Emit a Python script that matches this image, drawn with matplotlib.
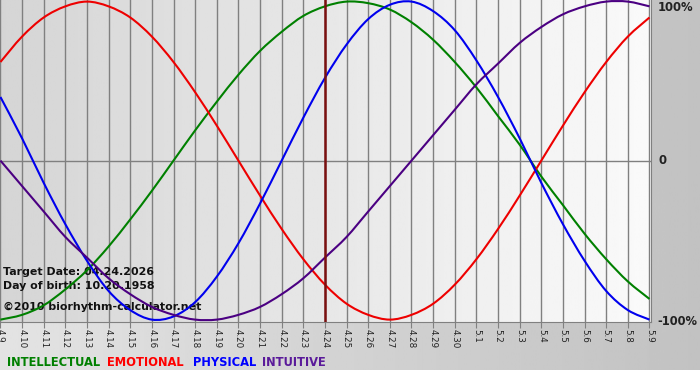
import matplotlib
import matplotlib.pyplot as plt
from matplotlib.path import Path
from matplotlib.patches import PathPatch
import numpy as np

plt.switch_backend('agg')

# days shown, 4.9 .. 5.9
days = ['4.9', '4.10', '4.11', '4.12', '4.13', '4.14', '4.15', '4.16', '4.17', '4.18',
        '4.19', '4.20', '4.21', '4.22', '4.23', '4.24', '4.25', '4.26', '4.27', '4.28',
        '4.29', '4.30', '5.1', '5.2', '5.3', '5.4', '5.5', '5.6', '5.7', '5.8', '5.9']

# values per day (-1 .. 1)
physical = [0.40, 0.14, -0.14, -0.40, -0.63, -0.82, -0.94, -1.00, -0.98, -0.89,
            -0.73, -0.52, -0.27, 0.00, 0.27, 0.52, 0.73, 0.89, 0.98, 1.00,
            0.94, 0.82, 0.63, 0.40, 0.14, -0.14, -0.40, -0.63, -0.82, -0.94, -1.00]
emotional = [0.62, 0.78, 0.90, 0.97, 1.00, 0.97, 0.90, 0.78, 0.62, 0.43,
             0.22, 0.00, -0.22, -0.43, -0.62, -0.78, -0.90, -0.97, -1.00, -0.97,
             -0.90, -0.78, -0.62, -0.43, -0.22, 0.00, 0.22, 0.43, 0.62, 0.78, 0.90]
intellectual = [-1.00, -0.97, -0.91, -0.81, -0.69, -0.54, -0.37, -0.19, 0.00, 0.19,
                0.37, 0.54, 0.69, 0.81, 0.91, 0.97, 1.00, 0.99, 0.95, 0.87,
                0.76, 0.62, 0.46, 0.28, 0.10, -0.10, -0.28, -0.46, -0.62, -0.76, -0.87]
intuitive = [0.00, -0.16, -0.32, -0.48, -0.61, -0.74, -0.84, -0.92, -0.97, -1.00,
             -1.00, -0.97, -0.92, -0.84, -0.74, -0.61, -0.48, -0.32, -0.16, 0.00,
             0.16, 0.32, 0.48, 0.61, 0.74, 0.84, 0.92, 0.97, 1.00, 1.00, 0.97]

target_day = '4.24'
target_txt = 'Target Date: 04.24.2026'
birth_txt = 'Day of birth: 10.20.1958'
copy_txt = '\u00a92010 biorhythm-calculator.net'

series = [('INTELLECTUAL', intellectual, '#008000'),
          ('EMOTIONAL', emotional, '#ee0000'),
          ('PHYSICAL', physical, '#0000ee'),
          ('INTUITIVE', intuitive, '#4b0082')]
legend_col = {'INTELLECTUAL': '#008000', 'EMOTIONAL': '#ff0000',
              'PHYSICAL': '#0000ff', 'INTUITIVE': '#5a1a9a'}


def smooth_line(ax, xs, ys, col):
    # draw the daily points as one smooth bezier line (catmull-rom style)
    pts = np.column_stack([xs, ys]).astype(float)
    n = len(pts)
    verts = [pts[0]]
    codes = [Path.MOVETO]
    for i in range(n - 1):
        p0 = pts[i - 1] if i > 0 else pts[i]
        p3 = pts[i + 2] if i + 2 < n else pts[i + 1]
        c1 = pts[i] + (pts[i + 1] - p0) / 6.0
        c2 = pts[i + 1] - (p3 - pts[i]) / 6.0
        verts += [c1, c2, pts[i + 1]]
        codes += [Path.CURVE4] * 3
    ax.add_patch(PathPatch(Path(verts, codes), facecolor='none', edgecolor=col,
                           lw=1.5, zorder=3))


plt.rcParams['font.family'] = 'DejaVu Sans'
fig = plt.figure(figsize=(7, 3.8), dpi=100)
fig.patch.set_facecolor('white')

# outer gray gradient panel (light left -> darker right), white strip at bottom
bg = fig.add_axes([0, 10 / 380, 1, 370 / 380])
bg.imshow(np.linspace(0.89, 0.76, 256).reshape(1, -1), cmap='gray', vmin=0, vmax=1,
          aspect='auto', extent=[0, 1, 0, 1])
bg.set_axis_off()

ax = fig.add_axes([0, 58 / 380, 651 / 700, 322 / 380])
x = np.arange(len(days))
ax.set_xlim(-0.02, 30.07)
ax.set_ylim(-1.015, 1.01)

# plot area gradient (darker left -> light right)
ax.imshow(np.linspace(0.835, 0.98, 256).reshape(1, -1), cmap='gray', vmin=0, vmax=1,
          aspect='auto', extent=[-0.02, 30.07, -1.015, 1.01], zorder=0)

for xi in x:
    ax.axvline(xi, color='#808080', lw=1, zorder=1)
ax.axhline(0, color='#808080', lw=1, zorder=1)

ax.text(0.1, -0.700, target_txt, fontsize=7.9, fontweight='bold', color='#111111', va='center', zorder=2)
ax.text(0.1, -0.789, birth_txt, fontsize=7.9, fontweight='bold', color='#111111', va='center', zorder=2)
ax.text(0.1, -0.921, copy_txt, fontsize=7.9, fontweight='bold', color='#111111', va='center', zorder=2)

for name, vals, col in series:
    smooth_line(ax, x, vals, col)

ax.axvline(days.index(target_day), color='#7a1010', lw=1.8, zorder=4)

ax.set_xticks(x)
ax.set_xticklabels(days, rotation=270, fontsize=6.3, color='#222222')
ax.tick_params(axis='x', length=4, color='#808080', pad=1)
ax.set_yticks([])
for s in ['top', 'left']:
    ax.spines[s].set_visible(False)
ax.spines['bottom'].set_color('#808080')
ax.spines['right'].set_color('#808080')

ax.text(30.4, 0.965, '100%', fontsize=8.4, fontweight='bold', color='#222222', va='center', clip_on=False)
ax.text(30.4, 0.0, '0', fontsize=8.4, fontweight='bold', color='#222222', va='center', clip_on=False)
ax.text(30.35, -1.01, '-100%', fontsize=8.3, fontweight='bold', color='#222222', va='center', clip_on=False)

# legend row
lx = [7, 107, 193, 262]
for (name, vals, col), px in zip(series, lx):
    fig.text(px / 700, 1 - 362 / 380, name, fontsize=8.3, fontweight='bold',
             color=legend_col[name], va='center')

plt.savefig('out.png', dpi=100)
plt.close()
